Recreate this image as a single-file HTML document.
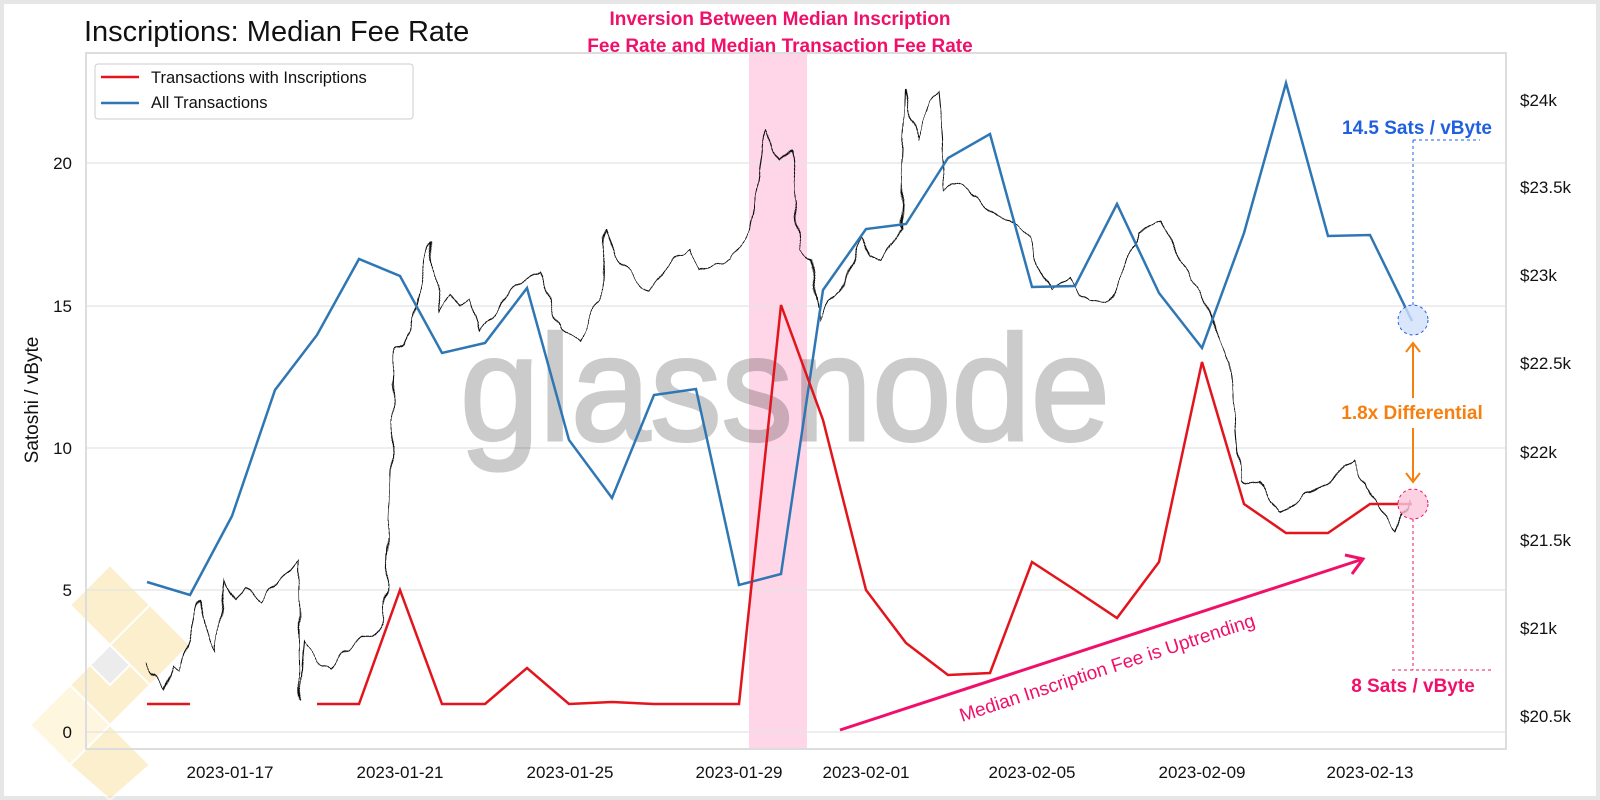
<!DOCTYPE html>
<html><head><meta charset="utf-8"><style>
html,body{margin:0;padding:0;background:#e6e6e6;width:1600px;height:800px;overflow:hidden;}
svg{display:block;font-family:"Liberation Sans",sans-serif;}
</style></head><body>
<svg width="1600" height="800" viewBox="0 0 1600 800" xmlns="http://www.w3.org/2000/svg">
<defs>
<filter id="jit" filterUnits="userSpaceOnUse" x="0" y="0" width="1600" height="800">
<feTurbulence type="fractalNoise" baseFrequency="0.09 0.04" numOctaves="1" seed="3" result="n"/>
<feDisplacementMap in="SourceGraphic" in2="n" scale="12" xChannelSelector="R" yChannelSelector="G"/>
</filter>
</defs>
<rect x="4" y="4" width="1592" height="792" fill="#fff"/>
<!-- logo -->
<g opacity="0.55" fill="#fbe3a6" stroke="#fff" stroke-width="2">
<polygon points="110,565 150,605 110,645 70,605"/>
<polygon points="150,605 190,645 150,685 110,645"/>
<polygon points="110,645 150,685 110,725 70,685"/>
<polygon points="70,685 110,725 70,765 30,725" fill="#fff0c8"/>
<polygon points="110,725 150,765 110,800 70,765"/>
<polygon points="110,645 130,665 110,685 90,665" fill="#ddd"/>
</g>
<!-- pink band -->
<rect x="749" y="53" width="58" height="696" fill="#ffd6e8"/>
<!-- grid -->
<g stroke="#e3e3e3" stroke-width="1.2">
<line x1="86" x2="1506" y1="163" y2="163"/><line x1="86" x2="1506" y1="306" y2="306"/>
<line x1="86" x2="1506" y1="448" y2="448"/><line x1="86" x2="1506" y1="590" y2="590"/>
<line x1="86" x2="1506" y1="732" y2="732"/>
</g>
<rect x="86" y="53" width="1420" height="696" fill="none" stroke="#dddddd" stroke-width="2"/>
<!-- watermark -->
<text x="785" y="440" font-size="150" fill="#000" stroke="#000" stroke-width="3" opacity="0.2" text-anchor="middle" textLength="650" lengthAdjust="spacingAndGlyphs">glassnode</text>
<!-- ticks -->
<g font-size="17" fill="#111">
<g text-anchor="end"><text x="72" y="169">20</text><text x="72" y="312">15</text><text x="72" y="454">10</text><text x="72" y="596">5</text><text x="72" y="738">0</text></g>
<g><text x="1520" y="106">$24k</text><text x="1520" y="193">$23.5k</text><text x="1520" y="281">$23k</text><text x="1520" y="369">$22.5k</text><text x="1520" y="458">$22k</text><text x="1520" y="546">$21.5k</text><text x="1520" y="634">$21k</text><text x="1520" y="722">$20.5k</text></g>
<g text-anchor="middle"><text x="230" y="778">2023-01-17</text><text x="400" y="778">2023-01-21</text><text x="570" y="778">2023-01-25</text><text x="739" y="778">2023-01-29</text><text x="866" y="778">2023-02-01</text><text x="1032" y="778">2023-02-05</text><text x="1202" y="778">2023-02-09</text><text x="1370" y="778">2023-02-13</text></g>
</g>
<text x="38" y="400" font-size="19" fill="#111" transform="rotate(-90 38 400)" text-anchor="middle">Satoshi / vByte</text>
<text x="84" y="41" font-size="29" fill="#111">Inscriptions: Median Fee Rate</text>
<text x="780" y="25" font-size="19" font-weight="bold" fill="#f0106a" text-anchor="middle">Inversion Between Median Inscription</text>
<text x="780" y="52" font-size="19" font-weight="bold" fill="#f0106a" text-anchor="middle">Fee Rate and Median Transaction Fee Rate</text>
<!-- legend -->
<rect x="95" y="64" width="318" height="55" rx="3" fill="#fff" stroke="#ccc"/>
<line x1="101" x2="139" y1="77" y2="77" stroke="#e3141c" stroke-width="2.5"/>
<line x1="101" x2="139" y1="103" y2="103" stroke="#2f77b4" stroke-width="2.5"/>
<text x="151" y="83" font-size="16.5" fill="#111">Transactions with Inscriptions</text>
<text x="151" y="108" font-size="16.5" fill="#111">All Transactions</text>
<!-- black price -->
<polyline filter="url(#jit)" fill="none" stroke="#111" stroke-width="1.1" points="147,660 155,675 165,690 172,665 180,670 190,640 200,600 207,630 215,650 225,580 235,600 245,590 260,600 275,585 290,570 298,560 300,700 305,640 318,660 330,670 345,650 360,640 375,635 385,620 395,350 402,345 410,330 420,290 430,240 440,310 450,295 460,305 470,300 480,330 495,310 510,290 525,280 540,270 550,300 560,330 570,335 580,340 590,320 600,300 605,230 615,255 630,270 640,285 650,290 665,270 680,255 690,250 700,270 715,262 730,260 740,245 750,230 758,180 765,130 772,150 780,160 790,150 795,200 800,250 810,260 820,320 830,300 840,290 850,265 860,240 870,255 880,260 890,245 900,230 906,90 912,120 918,140 925,115 930,100 937,90 945,190 958,185 970,190 980,200 990,210 1000,215 1010,220 1020,230 1030,240 1040,270 1050,290 1060,285 1070,280 1080,295 1090,300 1100,302 1110,300 1125,265 1140,230 1150,225 1160,220 1170,240 1180,260 1190,275 1200,290 1215,330 1230,360 1240,480 1250,482 1260,480 1270,500 1280,510 1290,505 1300,500 1315,490 1330,480 1342,470 1355,460 1365,490 1375,500 1385,515 1395,530 1403,515 1410,500"/>
<!-- blue -->
<polyline fill="none" stroke="#2f77b4" stroke-width="2.5" points="147,582 190,595 232,516 275,390 317,335 359,259 400,276 442,353 485,343 527,288 569,440 612,498 654,395 696,389 739,585 781,574 823,290 866,229 906,224 948,158 990,134 1032,287 1075,286 1117,204 1159,293 1202,348 1244,233 1286,83 1328,236 1370,235 1412,321"/>
<!-- red -->
<polyline fill="none" stroke="#e3141c" stroke-width="2.5" points="147,704 190,704"/>
<polyline fill="none" stroke="#e3141c" stroke-width="2.5" points="317,704 359,704 400,590 442,704 485,704 527,668 569,704 612,702 654,704 696,704 739,704 781,305 823,420 866,590 906,643 948,675 990,673 1032,562 1075,590 1117,618 1159,562 1202,362 1244,504 1286,533 1328,533 1370,504 1412,504"/>
<!-- annotations -->
<circle cx="1413" cy="320" r="15" fill="#cfe0fb" fill-opacity="0.8" stroke="#1f5fe0" stroke-dasharray="3,3"/>
<circle cx="1413" cy="504" r="15" fill="#fbc7dc" fill-opacity="0.8" stroke="#f0106a" stroke-dasharray="3,3"/>
<line x1="1413" y1="140" x2="1413" y2="305" stroke="#1f5fe0" stroke-dasharray="3,3"/>
<line x1="1413" y1="140" x2="1480" y2="140" stroke="#1f5fe0" stroke-dasharray="3,3"/>
<line x1="1413" y1="519" x2="1413" y2="670" stroke="#f0106a" stroke-dasharray="3,3"/>
<line x1="1392" y1="670" x2="1492" y2="670" stroke="#f0106a" stroke-dasharray="3,3"/>
<text x="1417" y="134" font-size="19" font-weight="bold" fill="#1f5fe0" text-anchor="middle">14.5 Sats / vByte</text>
<text x="1413" y="692" font-size="19" font-weight="bold" fill="#f0106a" text-anchor="middle">8 Sats / vByte</text>
<text x="1412" y="419" font-size="19" font-weight="bold" fill="#f57f0f" text-anchor="middle">1.8x Differential</text>
<g stroke="#f57f0f" stroke-width="2" fill="none"><line x1="1413" y1="345" x2="1413" y2="398"/><line x1="1413" y1="428" x2="1413" y2="480"/>
<polyline points="1406,352 1413,343 1420,352"/><polyline points="1406,473 1413,482 1420,473"/></g>
<line x1="840" y1="730" x2="1360" y2="560" stroke="#f0106a" stroke-width="3"/>
<polyline points="1345,555 1363,559 1352,574" fill="none" stroke="#f0106a" stroke-width="3"/>
<text x="0" y="0" font-size="19" fill="#f0106a" transform="translate(962 722) rotate(-18.1)">Median Inscription Fee is Uptrending</text>
</svg>
</body></html>
